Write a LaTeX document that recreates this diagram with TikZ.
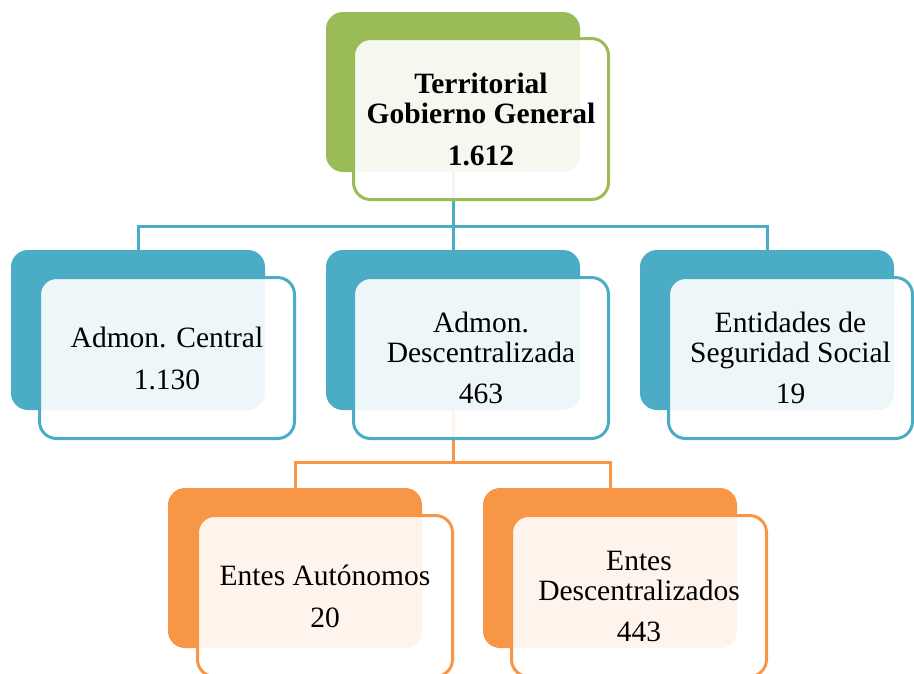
\documentclass[tikz,border=0pt]{standalone}
\usepackage{fontspec}
\setmainfont{Liberation Serif}
\usetikzlibrary{backgrounds}
\definecolor{govgreen}{HTML}{9BBB59}
\definecolor{admblue}{HTML}{4BACC6}
\definecolor{enteorange}{HTML}{F79646}
\tikzset{
  backbox/.style={rectangle, rounded corners=17pt, fill=#1, minimum width=254pt, minimum height=160pt, inner sep=0pt},
  frontbox/.style={rectangle, rounded corners=17pt, draw=#1, line width=3pt, fill=white, fill opacity=0.9, text opacity=1,
    minimum width=255pt, minimum height=161pt, inner sep=0pt, align=center, font=\fontsize{29.5}{30}\selectfont},
  link/.style={line width=3pt, draw=#1}
}

\begin{document}
\begin{tikzpicture}[x=1pt, y=-1pt]
  \useasboundingbox (0,0) rectangle (914,673);
  \clip (0,0) rectangle (914,673);

  % level 0
  \node[backbox=govgreen] (gobback) at (453,92) {};
  \node[frontbox=govgreen, font=\fontsize{29.5}{30}\selectfont\bfseries] (gob) at (481,119)
    {Territorial\\Gobierno General\\[12pt]1.612};

  % level 1
  \node[backbox=admblue] (cenback) at (138,330) {};
  \node[frontbox=admblue] (cen) at (167,358) {Admon. Central\\[12pt]1.130};
  \node[backbox=admblue] (desback) at (453,330) {};
  \node[frontbox=admblue] (des) at (481,358) {Admon.\\Descentralizada\\[11pt]463};
  \node[backbox=admblue] (segback) at (767,330) {};
  \node[frontbox=admblue, minimum width=244pt] (seg) at (790.5,358) {Entidades de\\Seguridad Social\\[11pt]19};

  % level 2
  \node[backbox=enteorange] (autback) at (295,568) {};
  \node[frontbox=enteorange] (aut) at (325,596) {Entes Autónomos\\[12pt]20};
  \node[backbox=enteorange] (entback) at (610,568) {};
  \node[frontbox=enteorange] (ent) at (639,596) {Entes\\Descentralizados\\[11pt]443};

  % connectors
  \begin{scope}[on background layer]
    \coordinate (busA) at (453,226);
    \coordinate (busB) at (453,462);
    \draw[link=admblue] (gobback.south) -- (busA) -| (cenback.north);
    \draw[link=admblue] (busA) -| (segback.north);
    \draw[link=admblue] (busA) -- (desback.north);
    \draw[link=enteorange] (desback.south) -- (busB) -| (autback.north);
    \draw[link=enteorange] (busB) -| (entback.north);
  \end{scope}
\end{tikzpicture}
\end{document}
